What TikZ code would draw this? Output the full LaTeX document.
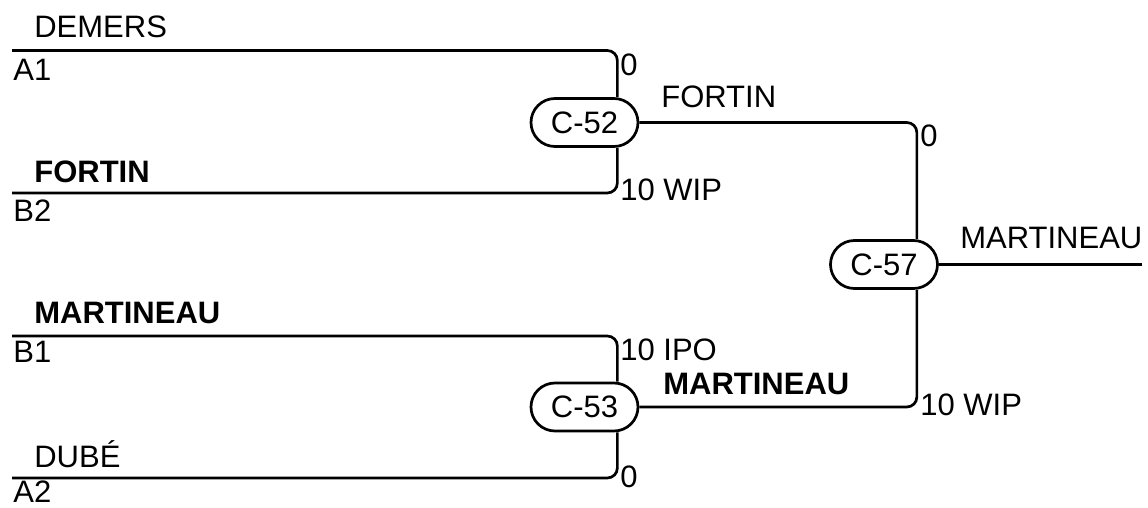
\documentclass[tikz,border=0pt]{standalone}
\usepackage{fontspec}
\setmainfont{Liberation Sans}
\begin{document}
\begin{tikzpicture}[x=0.5pt, y=-0.5pt, line width=1.35pt,
    lbl/.style={inner sep=0pt, font=\fontsize{15.5}{18}\selectfont},
    match/.style={lbl, draw, rounded corners=12pt, minimum width=53.5pt, minimum height=24pt},
    wire/.style={rounded corners=5pt}]
  \useasboundingbox (0,0) rectangle (1148,508);
  \node[match] (c52) at (584.5,122.5) {C-52};
  \node[match] (c53) at (584.5,407) {C-53};
  \node[match] (c57) at (884,264.5) {C-57};
  \coordinate (a1) at (12,50.5);
  \coordinate (b2) at (12,193);
  \coordinate (b1) at (12,336);
  \coordinate (a2) at (12,478);
  \coordinate (win) at (1142,264.5);
  \draw[wire] (a1) -| ([xshift=-11pt]c52.north east);
  \draw[wire] (b2) -| ([xshift=-11pt]c52.south east);
  \draw[wire] (b1) -| ([xshift=-11pt]c53.north east);
  \draw[wire] (a2) -| ([xshift=-11pt]c53.south east);
  \draw[wire] (c52.east) -| ([xshift=-11pt]c57.north east);
  \draw[wire] (c53.east) -| ([xshift=-11pt]c57.south east);
  \draw (c57.east) -- (win);
  \node[lbl, anchor=base west] (p1) at (33,38) {DEMERS};
  \node[lbl, anchor=north west] (s1) at (12,58) {A1};
  \node[lbl, anchor=base west, font=\fontsize{15.5}{18}\selectfont\bfseries] (p2) at (33,183) {FORTIN};
  \node[lbl, anchor=north west] (s2) at (12,199) {B2};
  \node[lbl, anchor=base west, font=\fontsize{15.5}{18}\selectfont\bfseries] (p3) at (33,323) {MARTINEAU};
  \node[lbl, anchor=north west] (s3) at (12,340) {B1};
  \node[lbl, anchor=base west] (p4) at (33,467) {DUBÉ};
  \node[lbl, anchor=north west] (s4) at (12,480) {A2};
  \node[lbl, anchor=north west] (r1) at (619,52.5) {0};
  \node[lbl, anchor=west] (r2) at (619,190) {10 WIP};
  \node[lbl, anchor=north west] (r3) at (619,337.5) {10 IPO};
  \node[lbl, anchor=west] (r4) at (619,477) {0};
  \node[lbl, anchor=north west] (r5) at (919,124) {0};
  \node[lbl, anchor=west] (r6) at (919,405) {10 WIP};
  \node[lbl, anchor=base west] (w1) at (660,108) {FORTIN};
  \node[lbl, anchor=base west, font=\fontsize{15.5}{18}\selectfont\bfseries] (w2) at (662,394) {MARTINEAU};
  \node[lbl, anchor=base west] (w3) at (959,249) {MARTINEAU};
\end{tikzpicture}
\end{document}
